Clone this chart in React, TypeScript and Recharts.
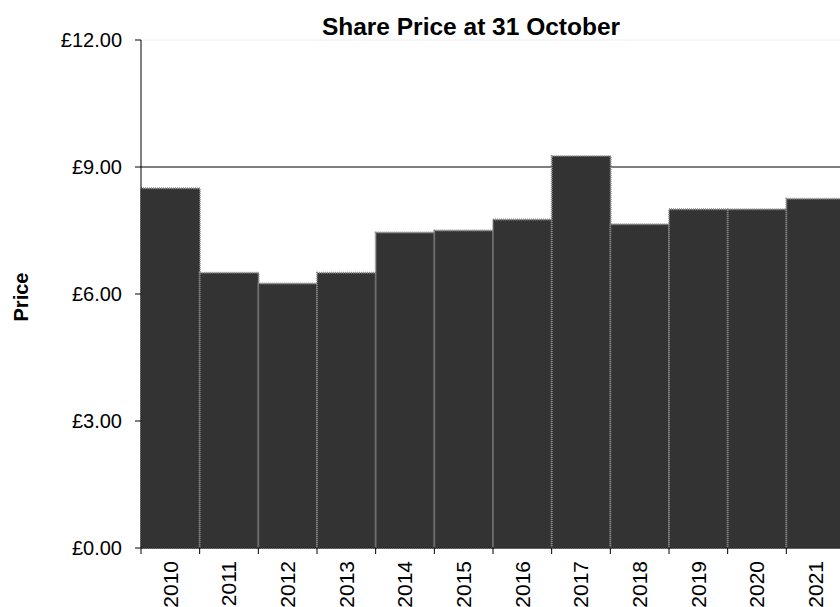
import { Bar, BarChart, CartesianGrid, ReferenceLine, XAxis, YAxis } from "recharts";

const years = ["2010", "2011", "2012", "2013", "2014", "2015", "2016", "2017", "2018", "2019", "2020", "2021"];
const prices = [8.5, 6.5, 6.25, 6.5, 7.45, 7.5, 7.76, 9.26, 7.65, 8.0, 8.0, 8.25];
const priceTicks = [0, 3, 6, 9, 12];

const FONT = '"Liberation Sans", Arial, Helvetica, sans-serif';
const CHART_W = 860;
const CHART_H = 607;
const Y_AXIS_W = 141;
const MARGIN_RIGHT = 15;
const BAND = (CHART_W - Y_AXIS_W - MARGIN_RIGHT) / years.length;

const data = years.map((year, i) => ({ year, price: prices[i] }));

function YearTick({ x, y, payload }: { x: number; y: number; payload: { value: string } }) {
  const left = x - BAND / 2;
  return (
    <g>
      <line x1={left} x2={left} y1={y - 8} y2={y - 2} stroke="#000" />
      <text
        x={x}
        y={y + 5}
        transform={`rotate(-90, ${x}, ${y + 5})`}
        textAnchor="end"
        dy="0.35em"
        fontSize={21}
        fontFamily={FONT}
        fill="#000"
      >
        {payload.value}
      </text>
    </g>
  );
}

export default function App() {
  return (
    <div style={{ position: "fixed", left: 0, top: 0, width: 840, height: 607, overflow: "hidden", background: "#fff" }}>
      <BarChart
        width={CHART_W}
        height={CHART_H}
        data={data}
        margin={{ top: 40, right: MARGIN_RIGHT, bottom: 0, left: 0 }}
        barCategoryGap={0}
        barGap={0}
      >
        <CartesianGrid vertical={false} horizontalValues={[9]} stroke="#555" strokeWidth={1.5} />
        <ReferenceLine y={12} stroke="#eeeeee" />
        <XAxis
          dataKey="year"
          height={59}
          axisLine={{ stroke: "#000" }}
          tickLine={false}
          interval={0}
          tick={YearTick as any}
        />
        <YAxis
          width={Y_AXIS_W}
          domain={[0, 12]}
          ticks={priceTicks}
          axisLine={{ stroke: "#000" }}
          tickLine={{ stroke: "#000" }}
          tickSize={6}
          tickMargin={13}
          tick={{ fontSize: 20, fontFamily: FONT, fill: "#000" }}
          tickFormatter={(v: number) => `£${v.toFixed(2)}`}
        />
        <Bar
          dataKey="price"
          fill="#333333"
          stroke="#8c8c8c"
          strokeWidth={2}
          strokeDasharray="1 1"
          isAnimationActive={false}
        />
      </BarChart>
      <svg width={840} height={607} style={{ position: "absolute", left: 0, top: 0, pointerEvents: "none" }}>
        <text x={471} y={35} textAnchor="middle" fontSize={24.5} fontWeight="bold" fontFamily={FONT} fill="#000">
          Share Price at 31 October
        </text>
        <text
          x={21}
          y={297}
          transform="rotate(-90, 21, 297)"
          textAnchor="middle"
          dy="0.35em"
          fontSize={20}
          fontWeight="bold"
          fontFamily={FONT}
          fill="#000"
        >
          Price
        </text>
      </svg>
    </div>
  );
}
